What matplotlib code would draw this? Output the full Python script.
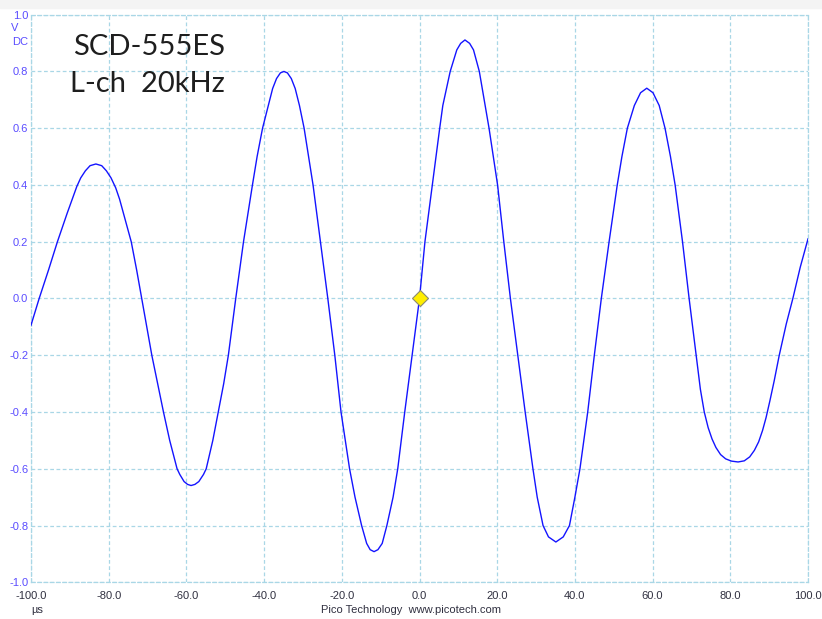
import matplotlib
matplotlib.use("Agg")
import matplotlib.pyplot as plt

plt.rcParams['axes.unicode_minus'] = False

# Time (µs) and voltage (V)
time_us = [-100.0, -97.9, -95.5, -93.2, -90.7, -89.4, -88.2, -87.2, -86.0, -84.8,
           -83.3, -81.8, -80.6, -79.4, -78.2, -77.2, -76.2, -74.2, -72.8, -71.5,
           -68.9, -65.9, -64.3, -62.4, -61.7, -60.6, -59.7, -58.8, -57.8, -56.8,
           -55.6, -54.9, -53.2, -51.8, -50.4, -49.2, -47.3, -45.3, -43.0, -41.8,
           -40.4, -38.9, -37.8, -36.8, -35.8, -34.9, -34.0, -33.0, -32.0, -30.9,
           -29.7, -27.4, -25.5, -23.6, -21.8, -20.2, -18.0, -16.6, -14.9, -13.6,
           -12.7, -11.7, -10.7, -9.6, -8.4, -6.8, -5.6, -3.8, -1.9, 0.0,
           1.4, 3.3, 5.2, 6.0, 7.9, 9.6, 10.6, 11.7, 12.9, 13.9,
           15.4, 16.9, 17.9, 20.1, 21.7, 23.4, 25.3, 27.2, 29.2, 30.3,
           31.8, 33.2, 35.1, 37.0, 38.6, 40.0, 41.3, 43.3, 45.0, 46.8,
           48.8, 50.9, 52.1, 53.5, 55.3, 56.9, 58.5, 60.1, 61.7, 63.2,
           64.6, 65.8, 67.7, 69.4, 71.2, 72.3, 73.3, 74.3, 75.3, 76.3,
           77.5, 78.8, 80.3, 82.0, 83.6, 85.0, 86.2, 87.3, 88.3, 89.2,
           90.2, 91.3, 92.6, 94.4, 96.1, 98.0, 100.0]
volts = [-0.094, 0.0, 0.10, 0.20, 0.30, 0.35, 0.395, 0.425, 0.45, 0.468,
         0.474, 0.468, 0.45, 0.425, 0.39, 0.35, 0.30, 0.20, 0.10, 0.0,
         -0.20, -0.40, -0.50, -0.60, -0.62, -0.645, -0.655, -0.659, -0.655, -0.645,
         -0.62, -0.60, -0.50, -0.40, -0.30, -0.20, 0.0, 0.20, 0.40, 0.50,
         0.60, 0.68, 0.74, 0.775, 0.795, 0.80, 0.795, 0.775, 0.74, 0.68,
         0.60, 0.40, 0.20, 0.0, -0.20, -0.40, -0.60, -0.70, -0.80, -0.863,
         -0.885, -0.892, -0.885, -0.863, -0.80, -0.70, -0.60, -0.40, -0.20, 0.0,
         0.20, 0.40, 0.60, 0.68, 0.80, 0.876, 0.899, 0.911, 0.899, 0.876,
         0.80, 0.68, 0.60, 0.40, 0.20, 0.0, -0.20, -0.40, -0.60, -0.70,
         -0.80, -0.84, -0.858, -0.84, -0.80, -0.70, -0.60, -0.40, -0.20, 0.0,
         0.20, 0.40, 0.50, 0.60, 0.68, 0.725, 0.741, 0.725, 0.68, 0.60,
         0.50, 0.40, 0.20, 0.0, -0.20, -0.32, -0.40, -0.455, -0.495, -0.525,
         -0.55, -0.565, -0.573, -0.576, -0.572, -0.558, -0.535, -0.505, -0.465, -0.42,
         -0.36, -0.29, -0.20, -0.09, 0.0, 0.11, 0.21]

x_ticks = [-100, -80, -60, -40, -20, 0, 20, 40, 60, 80, 100]
y_ticks = [-1.0, -0.8, -0.6, -0.4, -0.2, 0.0, 0.2, 0.4, 0.6, 0.8, 1.0]

trigger = (0.0, 0.0)

grid_color = '#a9d7e6'
ylabel_color = '#5a4cff'
xlabel_color = '#303040'

fig = plt.figure(figsize=(8.22, 6.19), dpi=100)
# light strip across the top of the screenshot
fig.patches.append(plt.Rectangle((0, 1 - 8 / 619), 1, 8 / 619,
                                 transform=fig.transFigure, color='#f4f4f4', zorder=0))

ax = fig.add_axes([31 / 822, 1 - 582.3 / 619, 777 / 822, 567.6 / 619])
ax.plot(time_us, volts, color='#1414ff', linewidth=1.0, zorder=3)
ax.plot([trigger[0]], [trigger[1]], marker='D', markersize=8,
        markerfacecolor='#ffee00', markeredgecolor='#8a8a70', markeredgewidth=0.8, zorder=4)

ax.set_xlim(-100, 100)
ax.set_ylim(-1.0, 1.0)
ax.set_xticks(x_ticks)
ax.set_yticks(y_ticks)
ax.set_xticklabels([f'{t:.1f}' for t in x_ticks])
ax.set_yticklabels([f'{t:.1f}' for t in y_ticks])
ax.tick_params(axis='both', length=0, labelsize=8)
ax.tick_params(axis='y', colors=ylabel_color, pad=2)
ax.tick_params(axis='x', colors=xlabel_color, pad=6)
for lbl in ax.get_xticklabels() + ax.get_yticklabels():
    lbl.set_family('Liberation Sans')

ax.grid(True, color=grid_color, linestyle=(0, (3, 2)), linewidth=0.9)
for sp in ax.spines.values():
    sp.set_color(grid_color)
    sp.set_linestyle((0, (3, 2)))
    sp.set_linewidth(0.9)

# unit labels and footer
fig.text(15 / 822, 1 - 28 / 619, 'V', color=ylabel_color, fontsize=8,
         family='Liberation Sans', ha='center', va='center')
fig.text(20 / 822, 1 - 42 / 619, 'DC', color=ylabel_color, fontsize=8,
         family='Liberation Sans', ha='center', va='center')
fig.text(37 / 822, 1 - 610 / 619, 'µs', color=xlabel_color, fontsize=8,
         family='Liberation Sans', ha='center', va='center')
fig.text(411 / 822, 1 - 610 / 619, 'Pico Technology  www.picotech.com',
         color=xlabel_color, fontsize=8, family='Liberation Sans', ha='center', va='center')

# big title text
fig.text(73 / 822, 1 - 55 / 619, 'SCD-555ES', fontsize=21, family='Lato',
         color='#1e1e1e', ha='left', va='baseline')
fig.text(70 / 822, 1 - 92 / 619, 'L-ch  20kHz', fontsize=21, family='Lato',
         color='#1e1e1e', ha='left', va='baseline')

fig.savefig('out.png', dpi=100)
